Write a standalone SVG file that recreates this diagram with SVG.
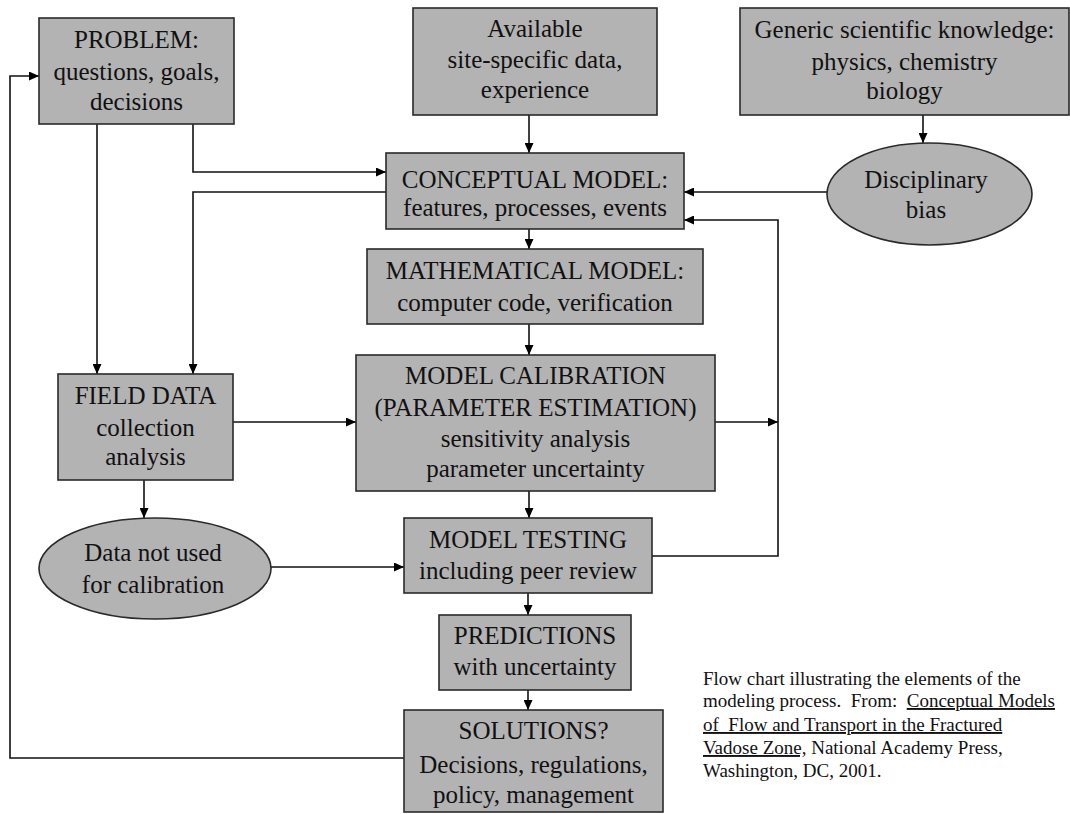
<svg xmlns="http://www.w3.org/2000/svg" width="1070" height="814" viewBox="0 0 1070 814" font-family="'Liberation Serif', 'Times New Roman', serif">
<style>
.box{fill:#b3b3b3;stroke:#2a2a2a;stroke-width:1.6}
text{font-family:'Liberation Serif','Times New Roman',serif}
.t{font-size:25px;fill:#111;text-anchor:middle}
.c{font-size:19px;fill:#111;white-space:pre}
.u{text-decoration:underline}
.ln{fill:none;stroke:#111;stroke-width:1.6}
.ar{marker-end:url(#ah)}
</style>
<defs>
<marker id="ah" markerUnits="userSpaceOnUse" markerWidth="10" markerHeight="9" viewBox="0 0 10 9" refX="10" refY="4.5" orient="auto">
<path d="M0,0 L10,4.5 L0,9 z" fill="#000"/>
</marker>
</defs>
<rect width="1070" height="814" fill="#fff"/>
<g id="connectors">
<path class="ln ar" d="M404,758 H10 V76 H39"/>
<path class="ln ar" d="M97,124 V374"/>
<path class="ln ar" d="M193,124 V172 H386"/>
<path class="ln ar" d="M386,192 H193 V374"/>
<path class="ln ar" d="M529,115 V153"/>
<path class="ln ar" d="M923,115 V143"/>
<path class="ln ar" d="M827,192 H684"/>
<path class="ln ar" d="M529,229 V249"/>
<path class="ln ar" d="M529,324 V355"/>
<path class="ln ar" d="M233,422 H356"/>
<path class="ln ar" d="M715,422 H778"/>
<path class="ln ar" d="M652,556 H778 V220 H684"/>
<path class="ln ar" d="M144,480 V518"/>
<path class="ln ar" d="M271,567 H404"/>
<path class="ln ar" d="M529,491 V518"/>
<path class="ln ar" d="M528,593 V615"/>
<path class="ln ar" d="M528,690 V710"/>
</g>
<g id="problem">
<rect class="box" x="39" y="18" width="195" height="106"/>
<text class="t" x="136.5" y="48">PROBLEM:</text>
<text class="t" x="136.5" y="80">questions, goals,</text>
<text class="t" x="136.5" y="110">decisions</text>
</g>
<g id="available">
<rect class="box" x="413" y="8" width="244" height="107"/>
<text class="t" x="535" y="37">Available</text>
<text class="t" x="535" y="68">site-specific data,</text>
<text class="t" x="535" y="98">experience</text>
</g>
<g id="generic">
<rect class="box" x="740" y="8" width="329" height="107"/>
<text class="t" x="904.5" y="38">Generic scientific knowledge:</text>
<text class="t" x="904.5" y="70">physics, chemistry</text>
<text class="t" x="904.5" y="99">biology</text>
</g>
<g id="bias">
<ellipse class="box" cx="929.5" cy="194" rx="102.5" ry="51"/>
<text class="t" x="926" y="188">Disciplinary</text>
<text class="t" x="926" y="218">bias</text>
</g>
<g id="conceptual">
<rect class="box" x="386" y="153" width="298" height="76"/>
<text class="t" x="535" y="188">CONCEPTUAL MODEL:</text>
<text class="t" x="535" y="216">features, processes, events</text>
</g>
<g id="mathematical">
<rect class="box" x="367" y="249" width="336" height="75"/>
<text class="t" x="535" y="279">MATHEMATICAL MODEL:</text>
<text class="t" x="535" y="311">computer code, verification</text>
</g>
<g id="fielddata">
<rect class="box" x="58" y="374" width="175" height="106"/>
<text class="t" x="145.5" y="404">FIELD DATA</text>
<text class="t" x="145.5" y="436">collection</text>
<text class="t" x="145.5" y="465">analysis</text>
</g>
<g id="calibration">
<rect class="box" x="356" y="355" width="359" height="136"/>
<text class="t" x="535.5" y="384">MODEL CALIBRATION</text>
<text class="t" x="535.5" y="416">(PARAMETER ESTIMATION)</text>
<text class="t" x="535.5" y="447">sensitivity analysis</text>
<text class="t" x="535.5" y="477">parameter uncertainty</text>
</g>
<g id="notused">
<ellipse class="box" cx="155" cy="568.5" rx="116" ry="50.5"/>
<text class="t" x="153" y="561">Data not used</text>
<text class="t" x="153" y="593">for calibration</text>
</g>
<g id="testing">
<rect class="box" x="404" y="518" width="248" height="75"/>
<text class="t" x="528" y="548">MODEL TESTING</text>
<text class="t" x="528" y="579">including peer review</text>
</g>
<g id="predictions">
<rect class="box" x="439" y="615" width="192" height="75"/>
<text class="t" x="535" y="644">PREDICTIONS</text>
<text class="t" x="535" y="675">with uncertainty</text>
</g>
<g id="solutions">
<rect class="box" x="404" y="710" width="259" height="102"/>
<text class="t" x="533.5" y="739">SOLUTIONS?</text>
<text class="t" x="533.5" y="773">Decisions, regulations,</text>
<text class="t" x="533.5" y="803">policy, management</text>
</g>
<g id="caption">
<text class="c" x="703" y="685">Flow chart illustrating the elements of the</text>
<text class="c" x="703" y="707">modeling process.  From:  <tspan class="u">Conceptual Models</tspan></text>
<text class="c" x="703" y="731"><tspan class="u">of  Flow and Transport in the Fractured</tspan></text>
<text class="c" x="703" y="754"><tspan class="u">Vadose Zone,</tspan> National Academy Press,</text>
<text class="c" x="703" y="777">Washington, DC, 2001.</text>
</g>
</svg>
